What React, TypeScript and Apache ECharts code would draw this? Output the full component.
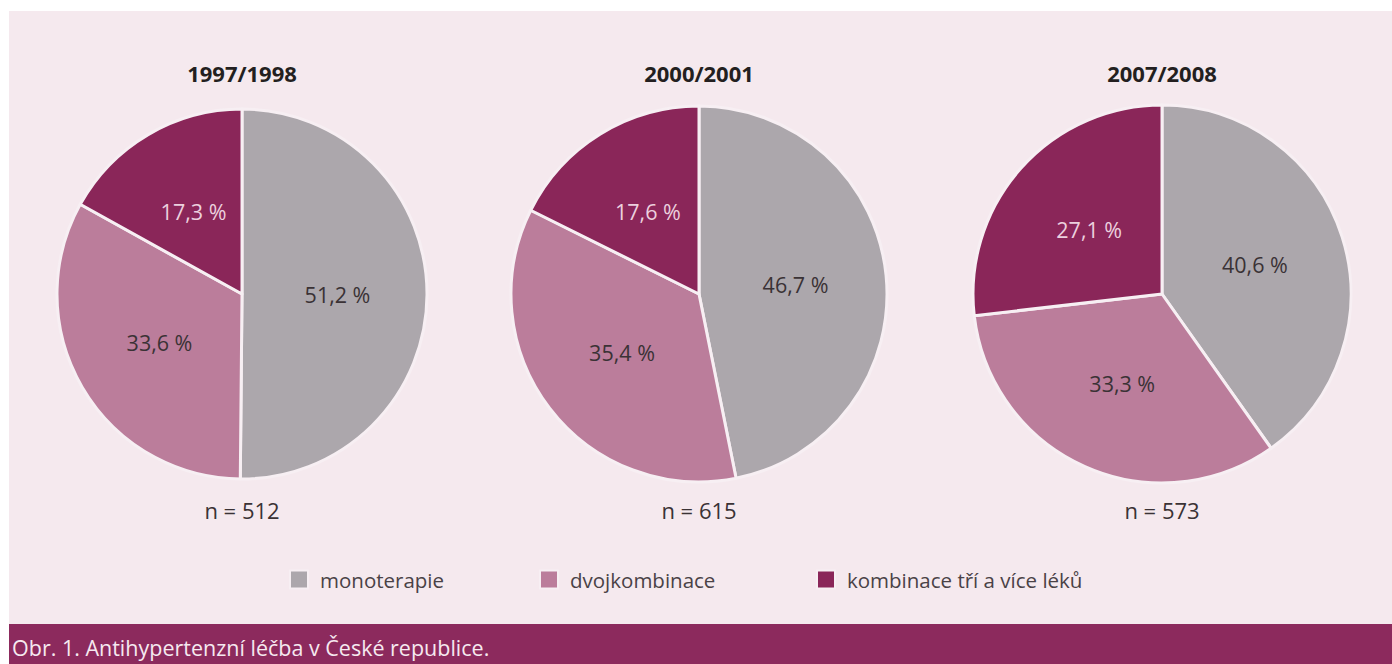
import React, { useEffect, useRef } from "react";
import * as echarts from "echarts";

const categories = ["monoterapie", "dvojkombinace", "kombinace tří a více léků"];
const sliceColors = ["#aca7ac", "#bb7d9b", "#8a2659"];
const labelColors = ["#3a3235", "#3a3235", "#ecd0de"];

const periods = ["1997/1998", "2000/2001", "2007/2008"];
const sampleSizes = [512, 615, 573];
const values1997 = [51.2, 33.6, 17.3];
const values2000 = [46.7, 35.4, 17.6];
const values2007 = [40.6, 33.3, 27.1];
const seriesValues = [values1997, values2000, values2007];

const captionText = "Obr. 1. Antihypertenzní léčba v České republice.";

const FONT = "'Open Sans', 'Noto Sans', sans-serif";

export default function App() {
  const ref = useRef<HTMLDivElement>(null);

  useEffect(() => {
    if (!ref.current) return;
    const chart = echarts.init(ref.current, undefined, { renderer: "svg" });

    const centers: [number, number][] = [
      [242, 294],
      [699, 294],
      [1162, 294],
    ];
    const radii = [185, 188, 189];

    const series = seriesValues.map((vals, si) => ({
      type: "pie",
      name: periods[si],
      center: centers[si],
      radius: radii[si],
      startAngle: 90,
      clockwise: true,
      silent: true,
      emphasis: { disabled: true },
      labelLine: { show: false },
      itemStyle: { borderColor: "#f7eff3", borderWidth: 3 },
      label: {
        show: true,
        position: "inside",
        fontFamily: FONT,
        fontSize: 21.5,
        formatter: (p: any) => `${String(p.value).replace(".", ",")} %`,
      },
      data: vals.map((v, i) => ({
        name: categories[i],
        value: v,
        itemStyle: { color: sliceColors[i] },
        label: { color: labelColors[i] },
      })),
    }));

    const legendLefts = [289, 539, 816];
    const legends = categories.map((c, i) => ({
      show: true,
      data: [c],
      left: legendLefts[i],
      top: 569,
      padding: 0,
      icon: "rect",
      itemWidth: 18,
      itemHeight: 18,
      selectedMode: false,
      textStyle: {
        fontFamily: FONT,
        fontSize: 20.5,
        color: "#4a4246",
        lineHeight: 18,
        padding: [0, 0, 0, 7],
      },
    }));

    const titleGraphics = periods.map((p, i) => ({
      type: "text",
      x: centers[i][0],
      y: 73,
      z: 10,
      style: {
        text: p,
        fontFamily: FONT,
        fontSize: 22,
        fontWeight: "bold",
        fill: "#231f20",
        textAlign: "center",
        textVerticalAlign: "middle",
      },
    }));

    const nGraphics = sampleSizes.map((n, i) => ({
      type: "text",
      x: centers[i][0],
      y: 510,
      z: 10,
      style: {
        text: `n = ${n}`,
        fontFamily: FONT,
        fontSize: 22,
        fill: "#3a3235",
        textAlign: "center",
        textVerticalAlign: "middle",
      },
    }));

    chart.setOption({
      animation: false,
      backgroundColor: "#ffffff",
      legend: legends,
      graphic: [
        {
          type: "rect",
          z: -10,
          shape: { x: 9, y: 11, width: 1383, height: 613 },
          style: { fill: "#f5e9ee" },
        },
        {
          type: "rect",
          z: -10,
          shape: { x: 9, y: 624, width: 1383, height: 40 },
          style: { fill: "#8c2a5d" },
        },
        {
          type: "text",
          x: 12,
          y: 647,
          z: 10,
          style: {
            text: captionText,
            fontFamily: FONT,
            fontSize: 21.5,
            fill: "#f6e9f0",
            textAlign: "left",
            textVerticalAlign: "middle",
          },
        },
        ...titleGraphics,
        ...nGraphics,
      ],
      series,
    });

    return () => chart.dispose();
  }, []);

  return (
    <div
      ref={ref}
      style={{ position: "fixed", left: 0, top: 0, width: 1392, height: 664 }}
    />
  );
}
